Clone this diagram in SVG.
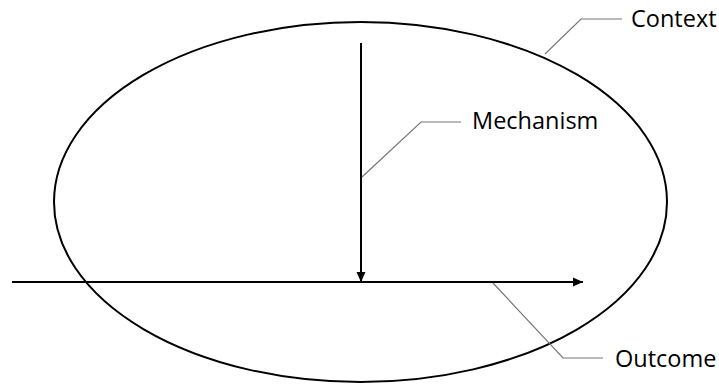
<svg xmlns="http://www.w3.org/2000/svg" width="719" height="385" viewBox="0 0 719 385">
<style>
.lbl{font-family:"Open Sans","Noto Sans",sans-serif;font-size:23.5px;fill:#000}
.call{fill:none;stroke:#777;stroke-width:1.2}
.main{fill:none;stroke:#000;stroke-width:2}
</style>
<defs>
<marker id="ah" markerWidth="10" markerHeight="10" refX="10" refY="5" orient="auto" markerUnits="userSpaceOnUse">
<path d="M0,0.5 L10,5 L0,9.5 Z" fill="#000"/>
</marker>
</defs>
<rect width="719" height="385" fill="#fff"/>
<g id="context">
<ellipse cx="360.5" cy="202" rx="306.5" ry="180" class="main"/>
<text class="lbl" x="631" y="27">Context</text>
</g>
<g id="mechanism">
<text class="lbl" x="472" y="129">Mechanism</text>
</g>
<g id="outcome">
<text class="lbl" x="615" y="367">Outcome</text>
</g>
<g id="connectors">
<line x1="361" y1="43" x2="361" y2="282" class="main" marker-end="url(#ah)"/>
<line x1="12" y1="282" x2="583" y2="282" class="main" marker-end="url(#ah)"/>
<polyline points="545,54 581,19 622,19" class="call"/>
<polyline points="362,177 421,122 461,122" class="call"/>
<polyline points="493,283 563,358 603,358" class="call"/>
</g>
</svg>
